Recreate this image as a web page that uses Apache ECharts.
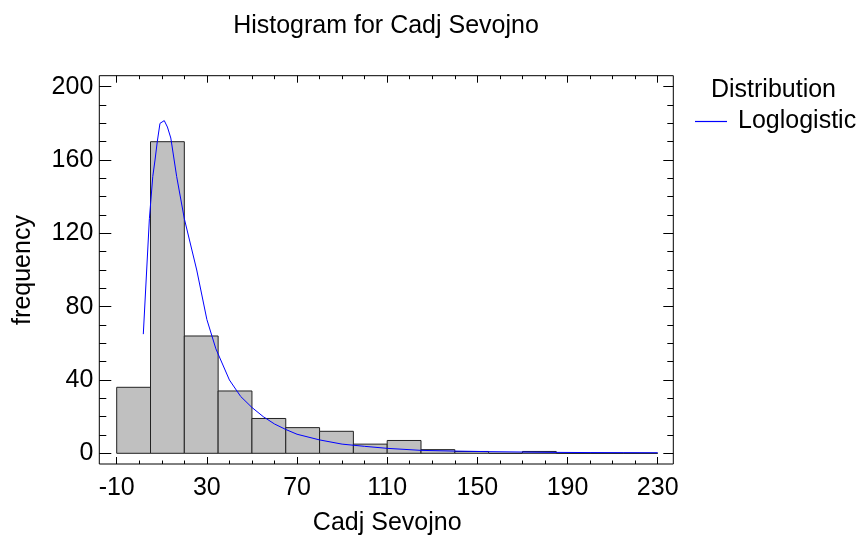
<!DOCTYPE html>
<html>
<head>
<meta charset="utf-8">
<script src="https://cdn.jsdelivr.net/npm/echarts@6/dist/echarts.min.js"></script>
<style>
  html, body { margin: 0; padding: 0; background: #fff; }
  #chart { width: 862px; height: 538px; }
</style>
</head>
<body>
<div id="chart"></div>
<script>
// histogram classes (width 15) and counts
const binEdges = [-10, 5, 20, 35, 50, 65, 80, 95, 110, 125, 140, 155, 170, 185, 200, 215, 230];
const counts = [36, 170, 64, 34, 19, 14, 12, 5, 7, 2, 1, 0, 1, 0, 0, 0];

// fitted loglogistic curve
const curveX = [1.8, 3.3, 4.5, 6.0, 7.0, 8.0, 9.2, 11.1, 12.5, 14, 16.6, 20, 25.5, 30, 34, 40, 45, 50, 55, 60, 65, 70, 80, 90, 100, 110, 125, 140, 155, 170, 185, 200, 215, 230];
const curveY = [65, 100, 128, 151, 160, 170, 180, 181.5, 178, 172, 151, 128, 100, 73, 57, 40, 31, 25, 20, 16, 13, 10.4, 7.3, 5, 3.8, 2.7, 1.6, 1.2, 0.9, 0.7, 0.5, 0.4, 0.35, 0.3];

const barData = counts.map((c, i) => [binEdges[i], binEdges[i + 1], c]);
const curveData = curveX.map((x, i) => [x, curveY[i]]);

const font = "Arial, 'Liberation Sans', sans-serif";
const myChart = echarts.init(document.getElementById("chart"));

const hidden = { show: false };
const noLine = { show: false, onZero: false };
const xCommon = {
  type: "value",
  gridIndex: 0,
  min: -10,
  max: 230,
  interval: 40,
  axisLine: noLine,
  splitLine: hidden,
  axisTick: { show: true, inside: true, length: 7, lineStyle: { color: "#000" } },
  minorTick: { show: true, splitNumber: 4, length: 3.5, lineStyle: { color: "#000" } },
};
const yCommon = {
  type: "value",
  gridIndex: 0,
  min: 0,
  max: 200,
  interval: 40,
  axisLine: noLine,
  splitLine: hidden,
  axisTick: { show: true, inside: true, length: 12, lineStyle: { color: "#000" } },
  minorTick: { show: true, splitNumber: 4, length: 7, lineStyle: { color: "#000" } },
};

const options = {
  animation: false,
  textStyle: { fontFamily: font },
  title: [
    {
      text: "Histogram for Cadj Sevojno",
      left: 381,
      top: 9,
      textAlign: "center",
      textStyle: { fontFamily: font, fontSize: 25, fontWeight: "normal", color: "#000" },
    },
    {
      text: "Distribution",
      left: 768.5,
      top: 73,
      textAlign: "center",
      textStyle: { fontFamily: font, fontSize: 25, fontWeight: "normal", color: "#000" },
    },
  ],
  legend: {
    data: ["Loglogistic"],
    left: 690,
    top: 104,
    icon: "rect",
    itemWidth: 32,
    itemHeight: 1.2,
    textStyle: { fontFamily: font, fontSize: 25, color: "#000", padding: [0, 0, 0, 6] },
  },
  grid: [
    // data area
    { left: 116.7, top: 86.7, width: 541, height: 366.6, show: false, outerBoundsMode: "none", containLabel: false },
    // frame
    { left: 99.3, top: 75.7, width: 574, height: 388.3, show: true, borderColor: "#000", borderWidth: 1, backgroundColor: "transparent", outerBoundsMode: "none", containLabel: false },
  ],
  xAxis: [
    Object.assign({}, xCommon, {
      position: "bottom",
      offset: 10.7,
      axisLabel: { color: "#000", fontSize: 25, fontFamily: font, margin: 12 },
      name: "Cadj Sevojno",
      nameLocation: "middle",
      nameGap: 47,
      nameTextStyle: { color: "#000", fontSize: 25, fontFamily: font },
    }),
    Object.assign({}, xCommon, { position: "top", offset: 11, axisLabel: hidden }),
    { type: "value", gridIndex: 1, show: false },
  ],
  yAxis: [
    Object.assign({}, yCommon, {
      position: "left",
      offset: 17.4,
      axisLabel: { color: "#000", fontSize: 25, fontFamily: font, margin: 6 },
      name: "frequency",
      nameLocation: "middle",
      nameGap: 64,
      nameTextStyle: { color: "#000", fontSize: 25, fontFamily: font },
    }),
    Object.assign({}, yCommon, {
      position: "right",
      offset: 15.6,
      axisLabel: hidden,
      axisTick: { show: true, inside: true, length: 10, lineStyle: { color: "#000" } },
      minorTick: { show: true, splitNumber: 4, length: 6, lineStyle: { color: "#000" } },
    }),
    { type: "value", gridIndex: 1, show: false },
  ],
  series: [
    {
      name: "Counts",
      type: "custom",
      xAxisIndex: 0,
      yAxisIndex: 0,
      data: barData,
      encode: { x: [0, 1], y: 2 },
      renderItem: (params, api) => {
        const p0 = api.coord([api.value(0), api.value(2)]);
        const p1 = api.coord([api.value(1), 0]);
        return {
          type: "rect",
          shape: { x: p0[0], y: p0[1], width: p1[0] - p0[0], height: p1[1] - p0[1] },
          style: { fill: "#c0c0c0", stroke: "#222", lineWidth: 1 },
        };
      },
    },
    {
      name: "Loglogistic",
      type: "line",
      xAxisIndex: 0,
      yAxisIndex: 0,
      data: curveData,
      showSymbol: false,
      symbol: "none",
      smooth: false,
      color: "#0000ff",
      lineStyle: { color: "#0000ff", width: 1 },
      z: 3,
    },
  ],
};
myChart.setOption(options);
</script>
</body>
</html>
